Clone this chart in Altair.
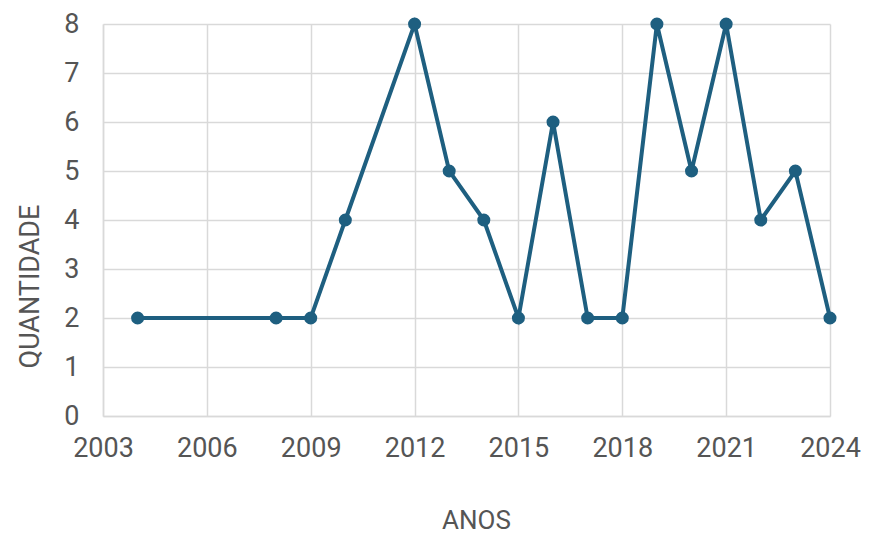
import altair as alt
import pandas as pd

anos = [2004, 2008, 2009, 2010, 2012, 2013, 2014, 2015, 2016, 2017, 2018, 2019, 2020, 2021, 2022, 2023, 2024]
quantidade = [2, 2, 2, 4, 8, 5, 4, 2, 6, 2, 2, 8, 5, 8, 4, 5, 2]
x_ticks = [2003, 2006, 2009, 2012, 2015, 2018, 2021, 2024]
y_ticks = [0, 1, 2, 3, 4, 5, 6, 7, 8]

df = pd.DataFrame({"ano": anos, "q": quantidade})
color = "#1e5f80"
font = "Roboto"
txt = "#555555"
fs = 27

base = alt.Chart(df).encode(
    x=alt.X("ano:Q", scale=alt.Scale(domain=[2003, 2024], nice=False, zero=False),
            axis=alt.Axis(title="ANOS", values=x_ticks, format="d", ticks=False, labelFlush=False,
                          labelPadding=19, labelFontSize=fs, labelColor=txt, labelFont=font,
                          titleFontSize=fs - 1, titleColor=txt, titleFont=font, titleFontWeight="normal",
                          titleY=104, titleBaseline="middle", titleX=373,
                          domainColor="#d9d9d9", gridColor="#d9d9d9", gridWidth=1.5, domainWidth=1.5)),
    y=alt.Y("q:Q", scale=alt.Scale(domain=[0, 8], nice=False),
            axis=alt.Axis(title="QUANTIDADE", values=y_ticks, ticks=False,
                          labelPadding=24, labelFontSize=fs, labelColor=txt, labelFont=font,
                          titleFontSize=fs, titleColor=txt, titleFont=font, titleFontWeight="normal",
                          titleX=-73, titleY=262, titleBaseline="middle", titleAlign="center", titleAngle=-90,
                          domainColor="#d9d9d9", gridColor="#d9d9d9", gridWidth=1.5, domainWidth=1.5)),
)

line = base.mark_line(color=color, strokeWidth=4)
pts = base.mark_circle(color=color, size=170, opacity=1)

chart = (line + pts).properties(
    width=727, height=392,
    autosize=alt.AutoSizeParams(type="none"),
    padding={"left": 95, "top": 16, "right": 32, "bottom": 120},
).configure_view(stroke=None)

chart.save("out.html", embed_options={"renderer": "svg", "actions": False})
